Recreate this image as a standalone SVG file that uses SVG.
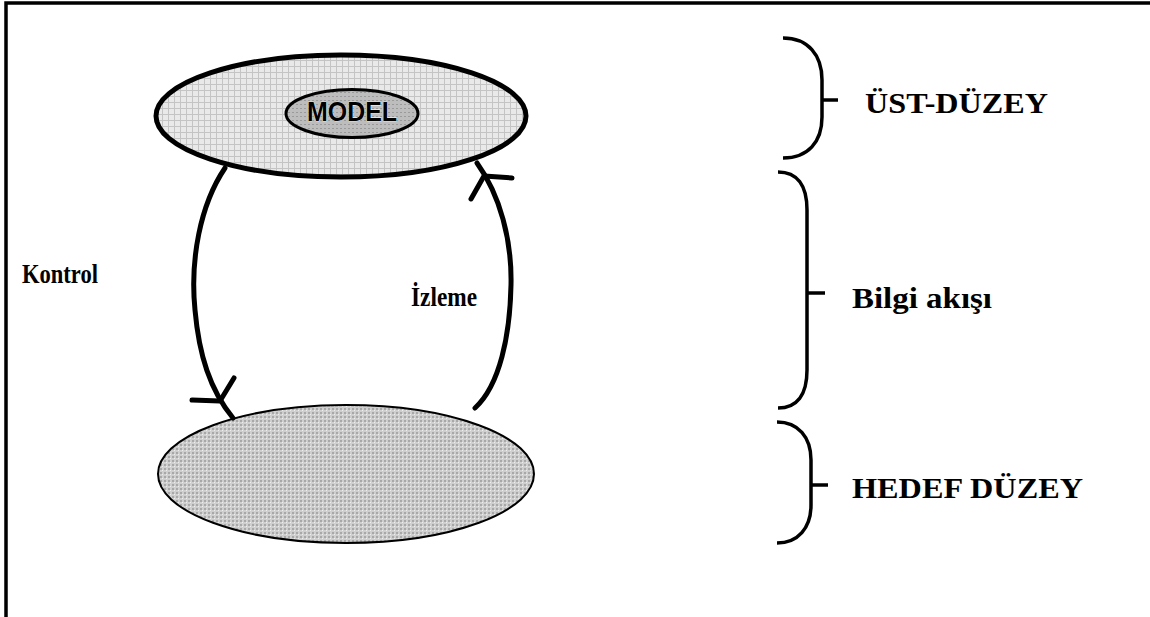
<svg xmlns="http://www.w3.org/2000/svg" width="1150" height="617" viewBox="0 0 1150 617">
<style>
.lbl{font-family:"Liberation Serif","Times New Roman",serif;font-weight:bold;fill:#000;}
.conn{fill:none;stroke:#000;stroke-width:5;stroke-linecap:round;stroke-linejoin:round;}
.brace{fill:none;stroke:#000;stroke-width:3.5;}
</style>
<defs>
<pattern id="pTop" width="6" height="6" patternUnits="userSpaceOnUse">
<rect width="6" height="6" fill="#e9e9e9"/>
<path d="M0,0.5H6M0.5,0V6" stroke="#c4c4c4" stroke-width="1"/>
</pattern>
<pattern id="pBot" width="4" height="4" patternUnits="userSpaceOnUse">
<rect width="4" height="4" fill="#cfcfcf"/>
<rect x="0" y="0" width="2" height="2" fill="#a8a8a8"/>
<rect x="2" y="2" width="1" height="1" fill="#eeeeee"/>
</pattern>
<pattern id="pModel" width="4" height="4" patternUnits="userSpaceOnUse">
<rect width="4" height="4" fill="#bdbdbd"/>
<rect x="0" y="0" width="2" height="1" fill="#9a9a9a"/>
</pattern>
</defs>
<rect width="1150" height="617" fill="#fff"/>
<g id="frame">
<path d="M6,617V3H1150" fill="none" stroke="#000" stroke-width="3.5"/>
</g>
<g id="node-ust">
<ellipse cx="341" cy="116" rx="185" ry="61" fill="url(#pTop)" stroke="#000" stroke-width="5"/>
<g id="node-model">
<ellipse cx="352" cy="113.5" rx="66" ry="24" fill="url(#pModel)" stroke="#000" stroke-width="3"/>
<text x="352" y="120.5" text-anchor="middle" font-family="'Liberation Sans',Arial,sans-serif" font-weight="bold" font-size="27" textLength="90" lengthAdjust="spacingAndGlyphs" stroke="#fff" stroke-width="0.6" paint-order="stroke">MODEL</text>
</g>
</g>
<g id="node-hedef">
<ellipse cx="346" cy="474" rx="188" ry="69" fill="url(#pBot)" stroke="#000" stroke-width="2"/>
</g>
<g id="connectors">
<g id="conn-kontrol">
<path class="conn" d="M225,168 C200,205 190,260 195,310 C199,355 210,390 233,418"/>
<path class="conn" d="M192,400 L220,401 L234,378"/>
</g>
<g id="conn-izleme">
<path class="conn" d="M477,163 C500,195 512,240 511,285 C510,335 500,385 475,408"/>
<path class="conn" d="M512,178 L484,176 L471,199"/>
</g>
</g>
<g id="label-kontrol"><text class="lbl" x="22" y="283" font-size="28" textLength="76" lengthAdjust="spacingAndGlyphs">Kontrol</text></g>
<g id="label-izleme"><text class="lbl" x="411" y="306" font-size="28" textLength="66" lengthAdjust="spacingAndGlyphs">İzleme</text></g>
<g id="braces">
<g id="brace-ust">
<path class="brace" stroke-width="4" d="M783,38 C808,38 822,55 822,80 L822,117 C822,142 808,158 783,158"/>
<path class="brace" d="M822,100 H838"/>
</g>
<g id="brace-bilgi">
<path class="brace" d="M778,172 C797,172 807,185 807,210 L807,370 C807,395 797,408 778,408"/>
<path class="brace" d="M807,293 H825"/>
</g>
<g id="brace-hedef">
<path class="brace" d="M777,422 C798,422 811,437 811,460 L811,505 C811,528 798,543 777,543"/>
<path class="brace" d="M811,485 H828"/>
</g>
</g>
<g id="label-ust"><text class="lbl" x="865" y="113" font-size="29" textLength="183" lengthAdjust="spacingAndGlyphs">ÜST-DÜZEY</text></g>
<g id="label-bilgi"><text class="lbl" x="852" y="308" font-size="29" textLength="140" lengthAdjust="spacingAndGlyphs">Bilgi akışı</text></g>
<g id="label-hedef"><text class="lbl" x="852" y="498" font-size="29" textLength="231" lengthAdjust="spacingAndGlyphs">HEDEF DÜZEY</text></g>
</svg>
